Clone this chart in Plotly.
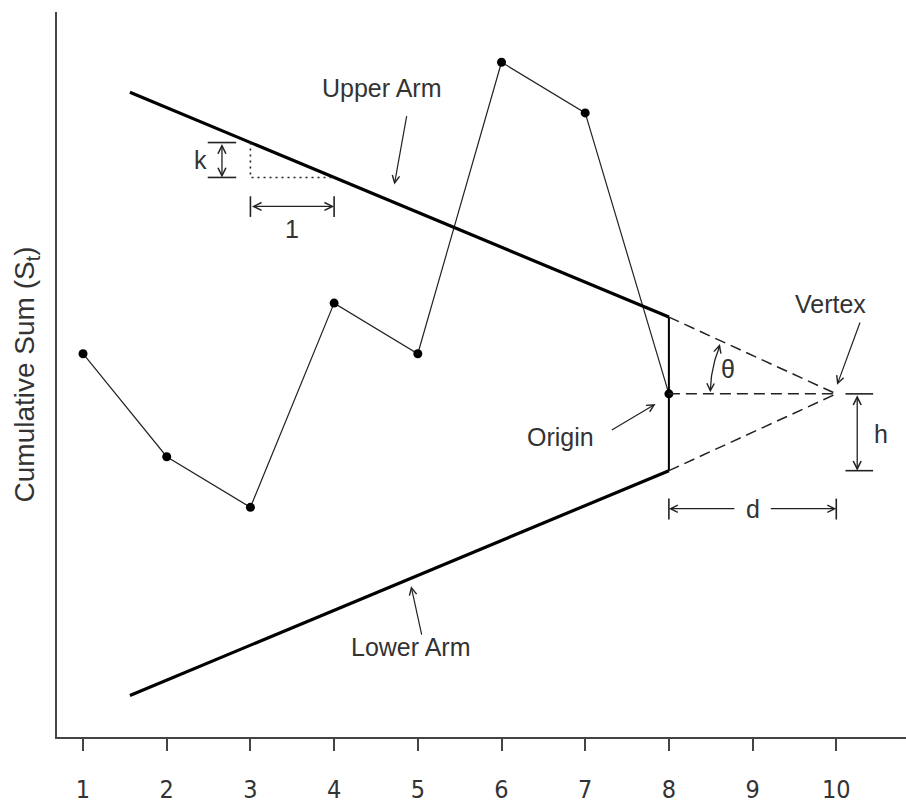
import numpy as np
import plotly.graph_objects as go

# Cumulative sum observations
t = [1, 2, 3, 4, 5, 6, 7, 8]
S = [1.15, -1.8, -3.25, 2.6, 1.15, 9.5, 8.05, 0.0]

# V-mask parameters
k = 1.0          # slope of the arms per unit time
h = 2.2          # half-width of the mask at the origin
d = 2            # lead distance from origin to vertex
arm_start = 1.56  # where the arms begin on the time axis

x_ticks = [1, 2, 3, 4, 5, 6, 7, 8, 9, 10]

INK = "#222222"
TXT = "#333333"
FONT = "Liberation Sans, Arial, sans-serif"
NARROW = "DejaVu Sans Condensed, Liberation Sans Narrow, Liberation Sans, sans-serif"

origin_t = t[-1]
origin_s = S[-1]
vertex_t = origin_t + d

fig = go.Figure()

# data path
fig.add_trace(go.Scatter(x=t, y=S, mode="lines+markers",
                         line=dict(color=INK, width=1.2),
                         marker=dict(color="black", size=9),
                         showlegend=False, hoverinfo="skip"))

# arms of the mask
up_y = [origin_s + h + (origin_t - arm_start) * k, origin_s + h]
lo_y = [origin_s - h - (origin_t - arm_start) * k, origin_s - h]
fig.add_trace(go.Scatter(x=[arm_start, origin_t], y=up_y, mode="lines",
                         line=dict(color="black", width=3.2), showlegend=False))
fig.add_trace(go.Scatter(x=[arm_start, origin_t], y=lo_y, mode="lines",
                         line=dict(color="black", width=3.2), showlegend=False))
# front edge of the mask
fig.add_trace(go.Scatter(x=[origin_t, origin_t], y=[origin_s - h, origin_s + h],
                         mode="lines", line=dict(color="black", width=2),
                         showlegend=False))

# dashed projection to the vertex
dash_style = dict(color=INK, width=1.5, dash="11px,6px")
for y0 in (origin_s + h, origin_s, origin_s - h):
    fig.add_trace(go.Scatter(x=[origin_t, vertex_t], y=[y0, origin_s], mode="lines",
                             line=dash_style, showlegend=False))

# slope triangle for k
k_x0, k_x1 = 3, 4
k_top = origin_s + h + (origin_t - k_x0) * k
k_bot = k_top - k
fig.add_trace(go.Scatter(x=[k_x0, k_x0, k_x1], y=[k_top, k_bot, k_bot], mode="lines",
                         line=dict(color=INK, width=1.6, dash="2px,4px"),
                         showlegend=False))

cap = dict(color=INK, width=1.6)


def seg(xs, ys, style=cap):
    fig.add_trace(go.Scatter(x=xs, y=ys, mode="lines", line=style,
                             showlegend=False, hoverinfo="skip"))


def double_arrow(x0, y0, x1, y1):
    fig.add_annotation(x=x1, y=y1, ax=x0, ay=y0, xref="x", yref="y",
                       axref="x", ayref="y", text="", showarrow=True,
                       arrowhead=5, startarrowhead=5, arrowside="end+start",
                       arrowsize=1.2, startarrowsize=1.2,
                       arrowwidth=1.3, arrowcolor=INK)


def pointer(x0, y0, x1, y1):
    fig.add_annotation(x=x1, y=y1, ax=x0, ay=y0, xref="x", yref="y",
                       axref="x", ayref="y", text="", showarrow=True,
                       arrowhead=5, arrowsize=1.2, arrowwidth=1.2,
                       arrowcolor=INK)


def label(x, y, s, size=25):
    fig.add_annotation(x=x, y=y, text=s, showarrow=False,
                       font=dict(family=FONT, size=size, color=TXT))


# k measure
kx = 2.66
seg([2.49, 2.83], [k_top, k_top])
seg([2.49, 2.83], [k_bot, k_bot])
double_arrow(kx, k_top, kx, k_bot)
label(2.40, (k_top + k_bot) / 2, "k")

# unit measure
uy = 5.37
seg([k_x0, k_x0], [5.07, 5.66])
seg([k_x1, k_x1], [5.07, 5.66])
double_arrow(k_x0, uy, k_x1, uy)
label(3.5, 4.71, "1")

# theta arc around the vertex (pixel scale: 83.67 px/x-unit, 35 px/y-unit)
r_px = 126
ang = np.radians(np.linspace(1.5, 22.5, 30))
arc_x = vertex_t - r_px * np.cos(ang) / 83.67
arc_y = origin_s + r_px * np.sin(ang) / 35
seg(list(arc_x), list(arc_y), dict(color=INK, width=1.3))
pointer(arc_x[3], arc_y[3], arc_x[0], arc_y[0] - 0.05)
pointer(arc_x[-4], arc_y[-4], arc_x[-1], arc_y[-1] + 0.05)
label(8.71, 0.71, "θ")

# h measure
hx = 10.25
seg([10.11, 10.44], [origin_s, origin_s])
seg([10.11, 10.44], [origin_s - h, origin_s - h])
double_arrow(hx, origin_s, hx, origin_s - h)
label(10.53, -1.14, "h")

# d measure
dy = -3.29
seg([origin_t, origin_t], [-3.0, -3.6])
seg([vertex_t, vertex_t], [-3.0, -3.6])
pointer(8.8, dy, origin_t, dy)
pointer(9.2, dy, vertex_t, dy)
label(9.0, dy, "d")

# named parts
label(4.57, 8.77, "Upper Arm")
pointer(4.87, 8.0, 4.72, 6.0)
label(4.91, -7.25, "Lower Arm")
pointer(5.05, -6.94, 4.92, -5.51)
label(6.70, -1.23, "Origin")
pointer(7.30, -1.06, 7.84, -0.29)
label(9.93, 2.57, "Vertex")
pointer(10.29, 2.09, 10.01, 0.26)

fig.update_layout(
    width=906, height=804,
    margin=dict(l=57, r=0, t=12, b=65),
    paper_bgcolor="white", plot_bgcolor="white",
    showlegend=False,
    xaxis=dict(range=[0.689, 10.833], tickvals=x_ticks,
               ticktext=[str(v) for v in x_ticks],
               showline=True, linecolor="#444444", linewidth=2,
               ticks="outside", ticklen=12, tickwidth=2, tickcolor="#444444",
               ticklabelstandoff=17,
               tickfont=dict(family=NARROW, size=25, color=TXT),
               showgrid=False, zeroline=False, fixedrange=True),
    yaxis=dict(range=[-9.83, 10.94], showline=True, linecolor="#444444",
               linewidth=2, showticklabels=False, ticks="",
               showgrid=False, zeroline=False, fixedrange=True,
               title=dict(text="Cumulative Sum (S<sub>t</sub>)", standoff=12,
                          font=dict(family=FONT, size=28, color=TXT))),
)

fig.write_html("out.html")
